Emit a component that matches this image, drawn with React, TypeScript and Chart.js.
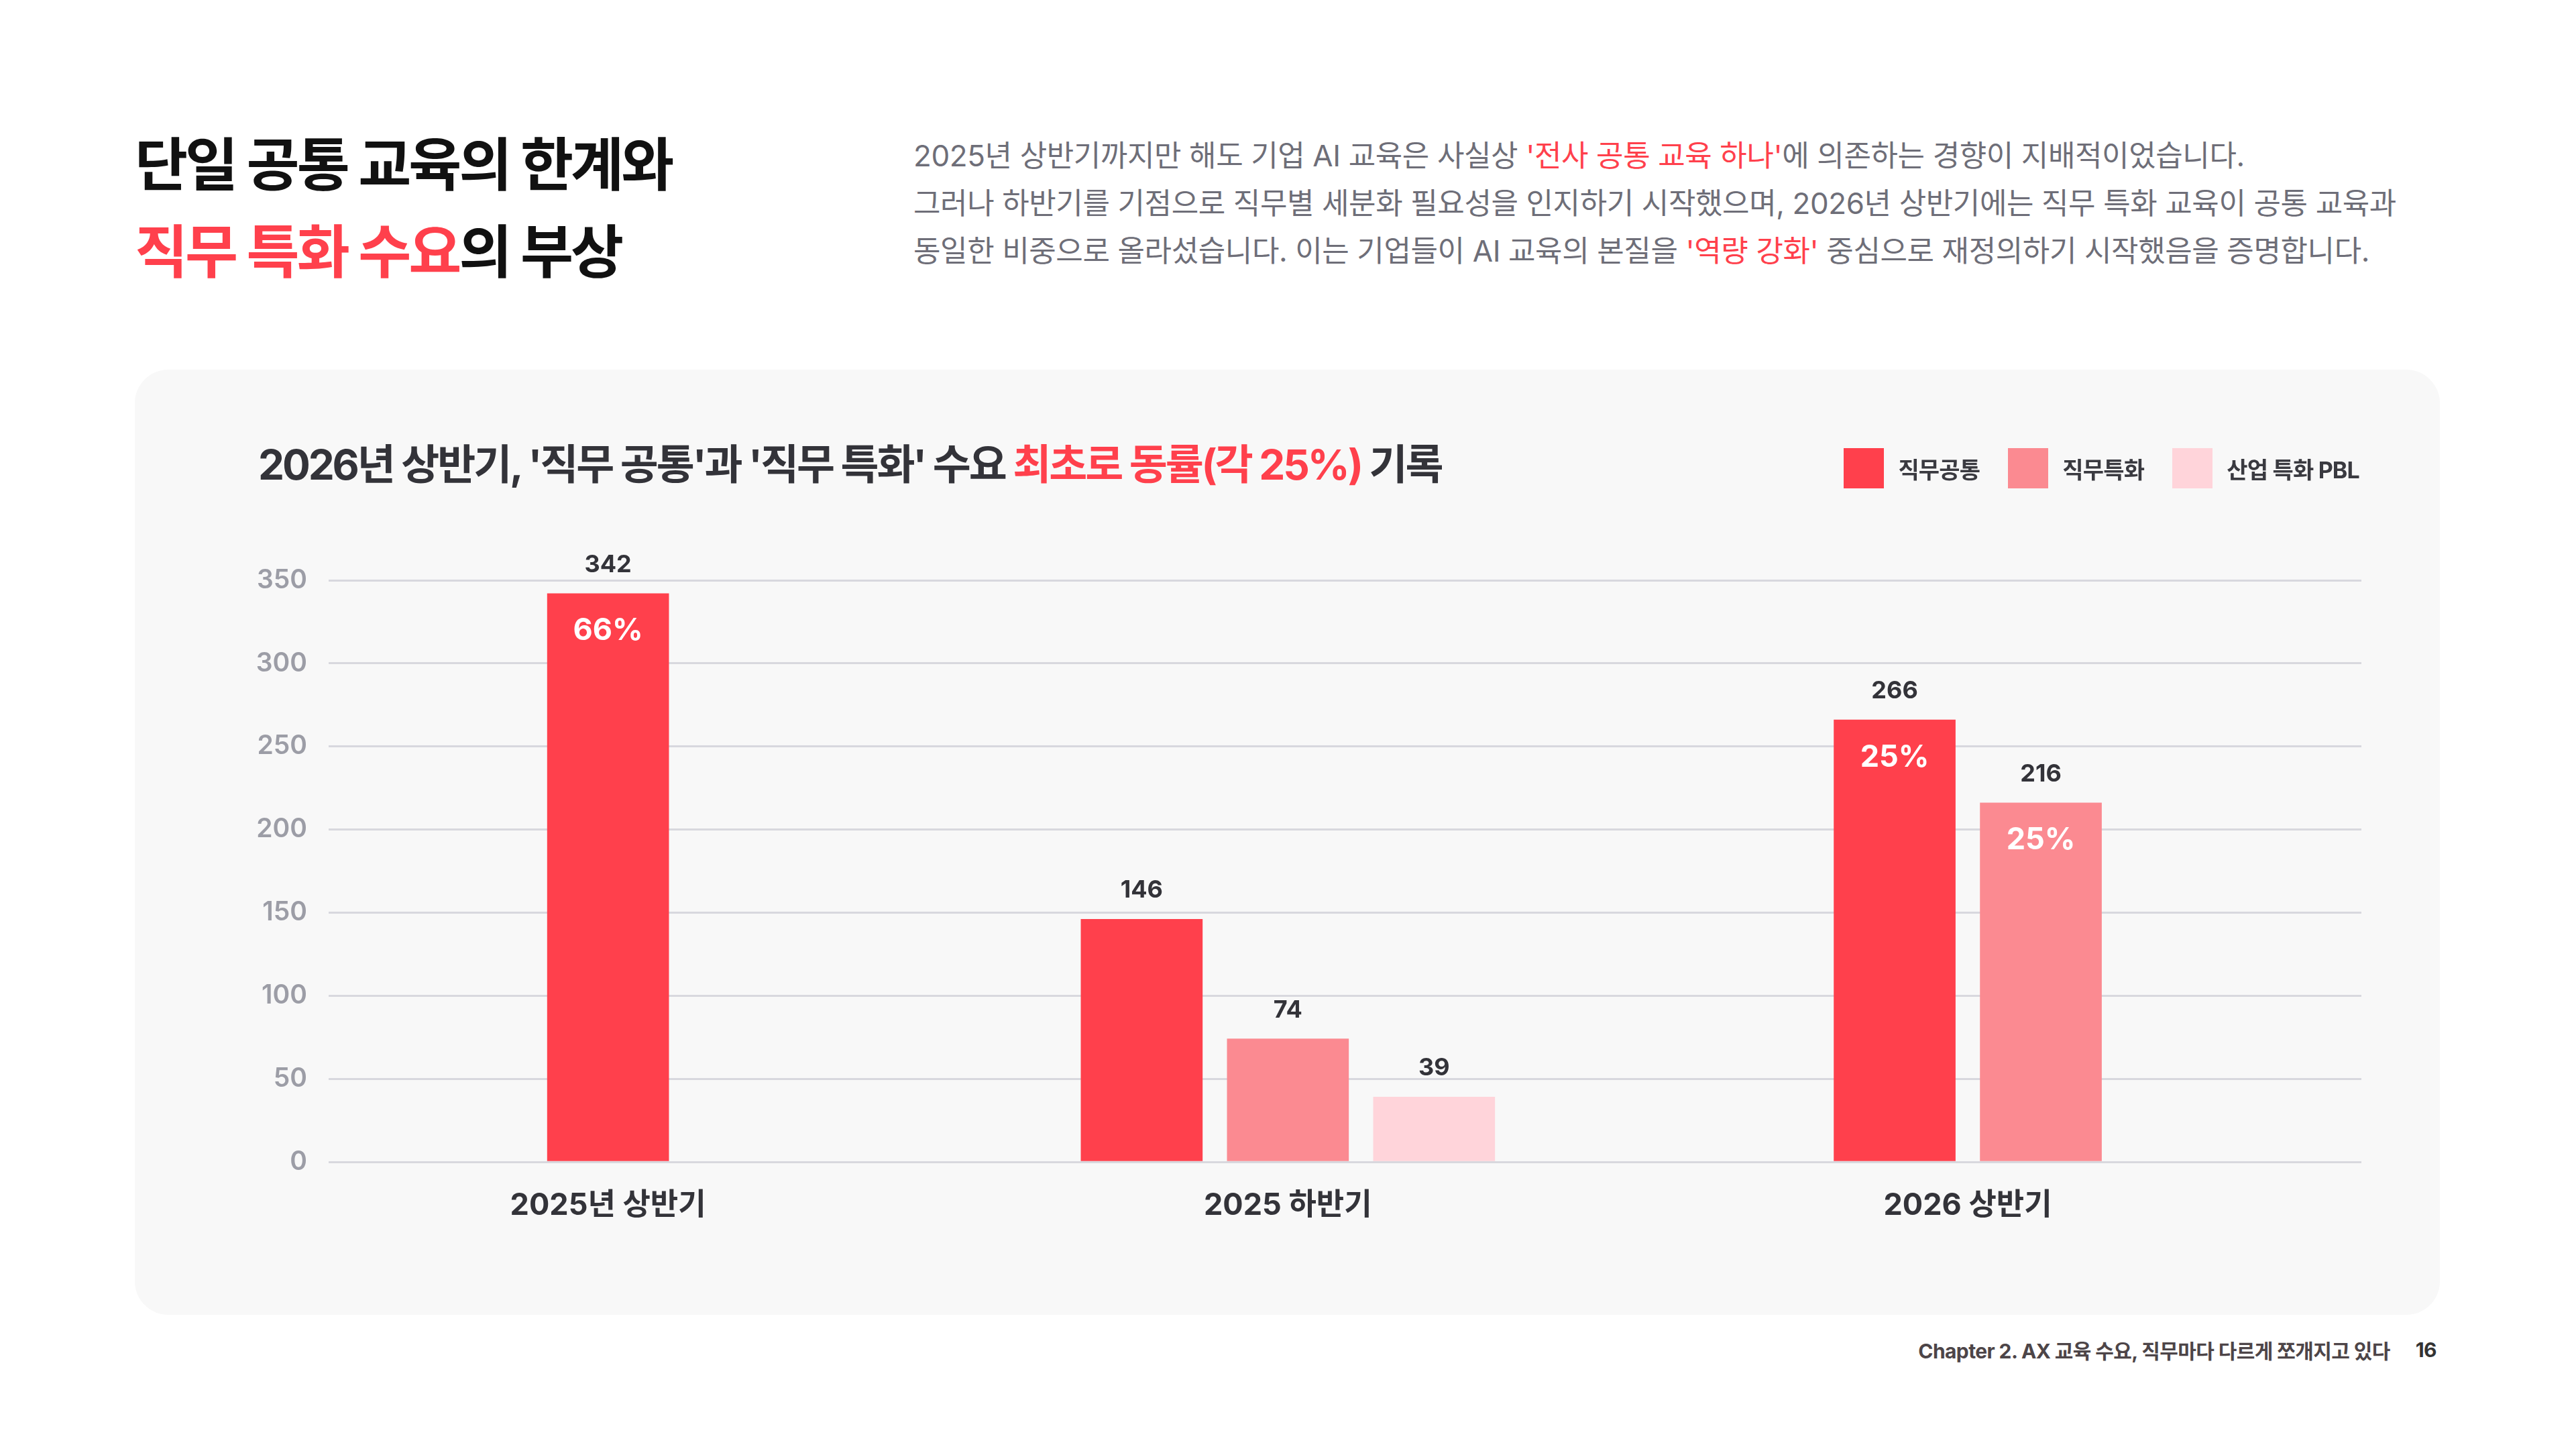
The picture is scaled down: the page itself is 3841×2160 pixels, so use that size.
import React, { useEffect, useRef } from 'react';
import Chart from 'chart.js/auto';

const FONT = "Inter, 'Noto Sans CJK KR', sans-serif";
const RED = '#ff404c';

const categories = ['2025년 상반기', '2025 하반기', '2026 상반기'];
const seriesNames = ['직무공통', '직무특화', '산업 특화 PBL'];
const seriesColors = ['#ff404c', '#fb8a91', '#ffd4da'];
const commonValues = [342, 146, 266];
const specialValues = [null, 74, 216];
const pblValues = [null, 39, null];
const commonShare = ['66%', null, '25%'];
const specialShare = [null, null, '25%'];
const pblShare = [null, null, null];
const yMax = 350;
const yStep = 50;

const seriesValues = [commonValues, specialValues, pblValues];
const seriesShares = [commonShare, specialShare, pblShare];

// value on top of each bar, share inside the bar
const barLabels = {
  id: 'barLabels',
  afterDatasetsDraw(chart: any) {
    const ctx = chart.ctx;
    chart.data.datasets.forEach((ds: any, di: number) => {
      const meta = chart.getDatasetMeta(di);
      meta.data.forEach((bar: any, i: number) => {
        const v = seriesValues[di][i];
        if (v == null) return;
        ctx.save();
        ctx.textAlign = 'center';
        ctx.textBaseline = 'middle';
        ctx.font = `700 36px ${FONT}`;
        ctx.fillStyle = '#333339';
        ctx.fillText(String(v), bar.x, bar.y - 43);
        const share = seriesShares[di][i];
        if (share) {
          ctx.font = `700 45px ${FONT}`;
          ctx.fillStyle = '#ffffff';
          ctx.fillText(share, bar.x, bar.y + 56);
        }
        ctx.restore();
      });
    });
  },
};

const DemandChart: React.FC = () => {
  const canvasRef = useRef<HTMLCanvasElement>(null);
  const chartRef = useRef<Chart | null>(null);

  useEffect(() => {
    if (!canvasRef.current) return;
    const ctx = canvasRef.current.getContext('2d');
    if (!ctx) return;
    if (chartRef.current) chartRef.current.destroy();

    chartRef.current = new Chart(ctx, {
      type: 'bar',
      data: {
        datasets: seriesNames.map((name, si) => ({
          label: name,
          data: categories.map((_, i) => ({ x: i, y: seriesValues[si][i] })),
          backgroundColor: seriesColors[si],
          borderWidth: 0,
          skipNull: true,
          barThickness: 218,
          maxBarThickness: 181,
        })),
      },
      options: {
        animation: false,
        responsive: true,
        maintainAspectRatio: false,
        layout: { padding: { left: 0, right: 117, top: 314, bottom: 0 } },
        plugins: {
          legend: { display: false },
          tooltip: { enabled: false },
        },
        scales: {
          x: {
            type: 'linear',
            offset: false,
            min: -0.411,
            max: 2.579,
            grid: { display: false, drawTicks: false, offset: false },
            border: { display: false },
            ticks: {
              stepSize: 1,
              includeBounds: false,
              autoSkip: false,
              maxRotation: 0,
              padding: 38,
              color: '#333339',
              font: { family: FONT, size: 45, weight: 'bold' },
              callback: (v: any) => categories[Math.round(v)] ?? '',
            },
            afterFit: (s: any) => {
              s.height = 228;
            },
          },
          y: {
            min: 0,
            max: yMax,
            grid: { color: '#d8d8de', lineWidth: 3, drawTicks: false },
            border: { display: false },
            ticks: {
              stepSize: yStep,
              padding: 32,
              color: '#9c9da6',
              font: { family: FONT, size: 39, weight: '600' },
            },
            afterFit: (s: any) => {
              s.width = 289;
            },
          },
        },
      },
      plugins: [barLabels],
    } as any);

    return () => {
      if (chartRef.current) {
        chartRef.current.destroy();
        chartRef.current = null;
      }
    };
  }, []);

  return <canvas ref={canvasRef} />;
};

const App: React.FC = () => {
  return (
    <div
      style={{
        position: 'fixed',
        left: 0,
        top: 0,
        width: 3841,
        height: 2160,
        background: '#ffffff',
        fontFamily: FONT,
        overflow: 'hidden',
      }}
    >
      <div
        style={{
          position: 'absolute',
          left: 201,
          top: 181,
          fontSize: 86,
          fontWeight: 700,
          letterSpacing: -4,
          lineHeight: '130px',
          color: '#111111',
          whiteSpace: 'nowrap',
        }}
      >
        단일 공통 교육의 한계와
        <br />
        <span style={{ color: RED }}>직무 특화 수요</span>의 부상
      </div>

      <div
        style={{
          position: 'absolute',
          left: 1362,
          top: 197,
          fontSize: 44,
          letterSpacing: -0.4,
          lineHeight: '71px',
          color: '#6e6e78',
          whiteSpace: 'nowrap',
        }}
      >
        2025년 상반기까지만 해도 기업 AI 교육은 사실상 <span style={{ color: RED }}>'전사 공통 교육 하나'</span>에 의존하는 경향이 지배적이었습니다.
        <br />
        그러나 하반기를 기점으로 직무별 세분화 필요성을 인지하기 시작했으며, 2026년 상반기에는 직무 특화 교육이 공통 교육과
        <br />
        동일한 비중으로 올라섰습니다. 이는 기업들이 AI 교육의 본질을 <span style={{ color: RED }}>'역량 강화'</span> 중심으로 재정의하기 시작했음을 증명합니다.
      </div>

      <div
        style={{
          position: 'absolute',
          left: 201,
          top: 551,
          width: 3437,
          height: 1409,
          background: '#f8f8f8',
          borderRadius: 50,
        }}
      >
        <div style={{ position: 'absolute', left: 0, top: 0, width: 3437, height: 1409 }}>
          <DemandChart />
        </div>
        <div
          style={{
            position: 'absolute',
            left: 184,
            top: 102,
            fontSize: 62,
            fontWeight: 700,
            letterSpacing: -3.1,
            lineHeight: '80px',
            color: '#333339',
            whiteSpace: 'nowrap',
          }}
        >
          2026년 상반기, '직무 공통'과 '직무 특화' 수요 <span style={{ color: RED }}>최초로 동률(각 25%)</span> 기록
        </div>
        <div
          style={{
            position: 'absolute',
            right: 3638 - 3518,
            top: 117,
            height: 60,
            display: 'flex',
            alignItems: 'center',
          }}
        >
          {seriesNames.map((name, i) => (
            <div
              key={name}
              style={{ display: 'flex', alignItems: 'center', marginLeft: i === 0 ? 0 : 42 }}
            >
              <div style={{ width: 60, height: 60, background: seriesColors[i], marginRight: 21 }} />
              <span
                style={{
                  fontSize: 34,
                  fontWeight: 700,
                  letterSpacing: -0.8,
                  color: '#3a3a40',
                  whiteSpace: 'nowrap',
                }}
              >
                {name}
              </span>
            </div>
          ))}
        </div>
      </div>

      <div
        style={{
          position: 'absolute',
          right: 3841 - 3633,
          top: 1992,
          height: 40,
          display: 'flex',
          alignItems: 'center',
          fontSize: 30,
          fontWeight: 700,
          letterSpacing: -0.6,
          whiteSpace: 'nowrap',
        }}
      >
        <span style={{ color: '#4d4548' }}>Chapter 2. AX 교육 수요, 직무마다 다르게 쪼개지고 있다</span>
        <span style={{ color: '#333333', marginLeft: 38 }}>16</span>
      </div>
    </div>
  );
};

export default App;
